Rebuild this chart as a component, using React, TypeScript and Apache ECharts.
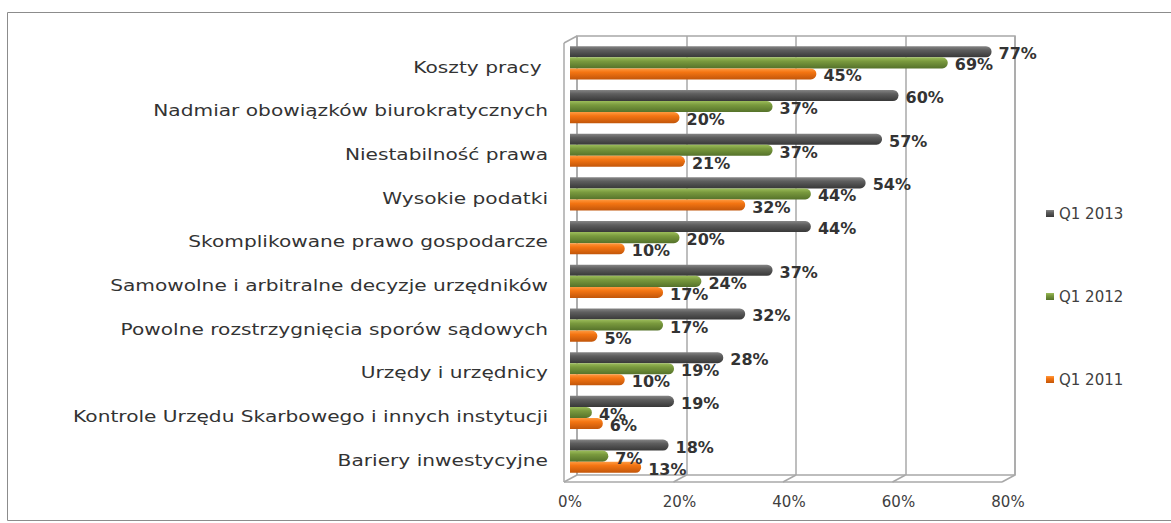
import React, { useEffect, useRef } from "react";
import * as echarts from "echarts";

const categories = [
  "Koszty pracy ",
  "Nadmiar obowiązków biurokratycznych",
  "Niestabilność prawa",
  "Wysokie podatki",
  "Skomplikowane prawo gospodarcze",
  "Samowolne i arbitralne decyzje urzędników",
  "Powolne rozstrzygnięcia sporów sądowych",
  "Urzędy i urzędnicy",
  "Kontrole Urzędu Skarbowego i innych instytucji",
  "Bariery inwestycyjne",
];
const seriesNames = ["Q1 2013", "Q1 2012", "Q1 2011"];
const q1_2013 = [77, 60, 57, 54, 44, 37, 32, 28, 19, 18];
const q1_2012 = [69, 37, 37, 44, 20, 24, 17, 19, 4, 7];
const q1_2011 = [45, 20, 21, 32, 10, 17, 5, 10, 6, 13];
const xMin = 0;
const xMax = 80;
const xInterval = 20;

const FONT = "DejaVu Sans";

// layout
const BACK = { left: 577, top: 36, width: 438, height: 439 };
const FRONT = { left: 570, top: 41, width: 438, height: 437 };
const DX = 13;
const DY = 7;
const BOX_COLOR = "#a8a8a8";
const LABEL_RIGHT = 548;
const LABEL_STRETCH = 1.26;

function grad(c1: string, c2: string, c3: string) {
  return new echarts.graphic.LinearGradient(0, 0, 0, 1, [
    { offset: 0, color: c1 },
    { offset: 0.35, color: c2 },
    { offset: 1, color: c3 },
  ]);
}

export default function App() {
  const ref = useRef<HTMLDivElement>(null);
  useEffect(() => {
    document.body.style.margin = "0";
    if (!ref.current) return;
    const chart = echarts.init(ref.current, undefined, { renderer: "svg" });

    const bx0 = BACK.left;
    const bx1 = BACK.left + BACK.width;
    const by0 = BACK.top;
    const by1 = BACK.top + BACK.height;
    const fx0 = bx0 - DX;
    const graphics: any[] = [
      {
        type: "rect",
        shape: { x: 7.5, y: 12.5, width: 1175, height: 508 },
        style: { fill: "none", stroke: "#8c8c8c", lineWidth: 1 },
        silent: true,
      },
      // left wall
      { type: "line", shape: { x1: fx0, y1: by0 + DY, x2: fx0, y2: by1 + DY }, style: { stroke: BOX_COLOR, lineWidth: 1.5 } },
      { type: "line", shape: { x1: fx0, y1: by0 + DY, x2: bx0, y2: by0 }, style: { stroke: BOX_COLOR, lineWidth: 1.5 } },
      // floor front edge
      { type: "line", shape: { x1: fx0, y1: by1 + DY, x2: bx1 - DX, y2: by1 + DY }, style: { stroke: BOX_COLOR, lineWidth: 1.5 } },
    ];
    const nTicks = Math.round((xMax - xMin) / xInterval);
    for (let i = 0; i <= nTicks; i++) {
      const x = bx0 + (BACK.width * i) / nTicks;
      graphics.push({
        type: "line",
        shape: { x1: x, y1: by1, x2: x - DX, y2: by1 + DY },
        style: { stroke: BOX_COLOR, lineWidth: 1.5 },
      });
    }

    const labelStyle = {
      show: true,
      position: "right",
      distance: 7,
      offset: [0, 2],
      formatter: "{c}%",
      fontFamily: FONT,
      fontSize: 16,
      fontWeight: "bold",
      color: "#333333",
    };

    const colors = [
      grad("#858585", "#5e5e5e", "#383838"),
      grad("#9cbd5a", "#7a9a3e", "#55722a"),
      grad("#ff9a40", "#f47512", "#c2560a"),
    ];
    const data = [q1_2013, q1_2012, q1_2011];

    chart.setOption({
      animation: false,
      textStyle: { fontFamily: FONT },
      graphic: graphics,
      legend: {
        orient: "vertical",
        left: 1041,
        top: 201,
        itemWidth: 8,
        itemHeight: 7,
        itemGap: 68,
        icon: "rect",
        data: seriesNames,
        textStyle: { fontFamily: FONT, fontSize: 15, color: "#404040" },
      },
      grid: [
        { left: FRONT.left, top: FRONT.top, width: FRONT.width, height: FRONT.height },
        {
          left: BACK.left,
          top: BACK.top,
          width: BACK.width,
          height: BACK.height,
          show: true,
          borderColor: BOX_COLOR,
          borderWidth: 1.5,
          backgroundColor: "transparent",
          z: 0,
        },
      ],
      xAxis: [
        {
          type: "value",
          gridIndex: 0,
          min: xMin,
          max: xMax,
          interval: xInterval,
          axisLine: { show: false },
          axisTick: { show: false },
          splitLine: { show: false },
          axisLabel: {
            formatter: "{value}%",
            margin: 16,
            fontFamily: FONT,
            fontSize: 15,
            color: "#404040",
          },
        },
        {
          type: "value",
          gridIndex: 1,
          min: xMin,
          max: xMax,
          interval: xInterval,
          axisLine: { show: false },
          axisTick: { show: false },
          axisLabel: { show: false },
          splitLine: { show: true, lineStyle: { color: BOX_COLOR, width: 1.5 } },
        },
      ],
      yAxis: [
        {
          type: "category",
          gridIndex: 0,
          inverse: true,
          data: categories,
          axisLine: { show: false },
          axisTick: { show: false },
          axisLabel: { show: false },
        },
        { type: "value", gridIndex: 1, show: false },
      ],
      series: seriesNames.map((name, i) => ({
        type: "bar",
        name,
        xAxisIndex: 0,
        yAxisIndex: 0,
        data: data[i],
        barCategoryGap: "24%",
        barGap: "0%",
        itemStyle: { color: colors[i], borderRadius: [0, 6, 6, 0] },
        label: labelStyle,
        z: 3,
      })),
    });

    // category labels, placed at the category axis positions, horizontally stretched like the source
    const catTexts = categories.map((c, i) => {
      const yc = chart.convertToPixel({ yAxisIndex: 0 }, i) as number;
      return {
        type: "text",
        x: LABEL_RIGHT,
        y: yc + 4,
        scaleX: LABEL_STRETCH,
        silent: true,
        style: {
          text: c,
          align: "right",
          verticalAlign: "middle",
          fontFamily: FONT,
          fontSize: 16,
          fill: "#333333",
        },
      };
    });
    chart.setOption({ graphic: [...graphics, ...catTexts] });

    return () => chart.dispose();
  }, []);
  return <div ref={ref} style={{ width: 1171, height: 523 }} />;
}
